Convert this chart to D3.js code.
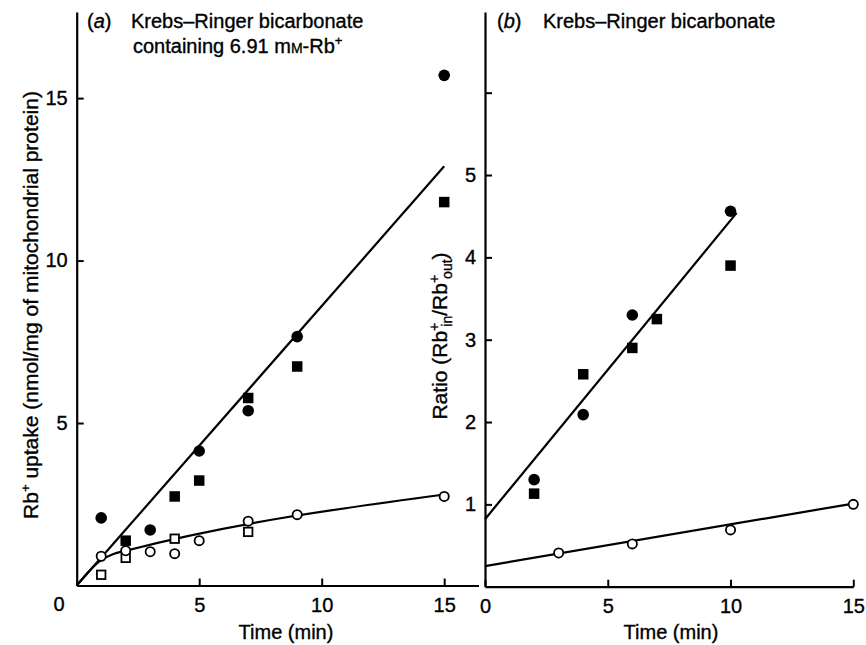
<!DOCTYPE html>
<html>
<head>
<meta charset="utf-8">
<script src="https://cdn.jsdelivr.net/npm/d3@7"></script>
<style>
  html, body { margin: 0; padding: 0; background: #fff; }
  svg text { font-family: "Liberation Sans", Arial, Helvetica, sans-serif; fill: #000; stroke: #000; stroke-width: 0.35px; }
</style>
</head>
<body>
<svg id="chart" width="866" height="645"></svg>
<script>
// ---------- Data: panel (a) Rb+ uptake (nmol/mg protein) ----------
const aFilledCircleTime  = [1, 3, 5, 7, 9, 15];
const aFilledCircleValue = [2.08, 1.71, 4.14, 5.38, 7.66, 15.7];
const aFilledSquareTime  = [2, 4, 5, 7, 9, 15];
const aFilledSquareValue = [1.38, 2.74, 3.23, 5.77, 6.74, 11.8];
const aOpenCircleTime    = [1, 2, 3, 4, 5, 7, 9, 15];
const aOpenCircleValue   = [0.90, 1.07, 1.04, 0.98, 1.38, 1.98, 2.18, 2.74];
const aOpenSquareTime    = [1, 2, 4, 7];
const aOpenSquareValue   = [0.33, 0.85, 1.44, 1.65];
const aUpperLine = [[0, 0], [15, 12.9]];
const aLowerLine = [[0, 0], [1, 0.78], [1.5, 0.97], [2, 1.07], [15, 2.8]];
const aYTicks = [5, 10, 15];
const aXTicks = [5, 10, 15];

// ---------- Data: panel (b) Ratio Rb+in/Rb+out ----------
const bFilledCircleTime  = [2, 4, 6, 10];
const bFilledCircleValue = [1.30, 2.09, 3.30, 4.56];
const bFilledSquareTime  = [2, 4, 6, 7, 10];
const bFilledSquareValue = [1.13, 2.58, 2.90, 3.25, 3.90];
const bOpenCircleTime    = [3, 6, 10, 15];
const bOpenCircleValue   = [0.41, 0.52, 0.69, 1.00];
const bUpperLine = [[0, 0.82], [10.25, 4.54]];
const bLowerLine = [[0, 0.25], [15, 1.01]];
const bYTicks = [1, 2, 3, 4, 5, 6];
const bYTickLabels = ["1", "2", "3", "4", "5", ""];
const bXTicks = [0, 5, 10, 15];

const svg = d3.select("#chart");
const FONT = 20;

// ---------- scales ----------
const xA = d3.scaleLinear().domain([0, 16.4]).range([76.7, 478.5]);
const yA = d3.scaleLinear().domain([0, 17.65]).range([585.5, 12]);
const xB = d3.scaleLinear().domain([0, 15]).range([485, 853.3]);
const yB = d3.scaleLinear().domain([0, 6.98]).range([586.7, 12]);

function styleAxis(g) {
  g.selectAll("path.domain").attr("stroke", "#000").attr("stroke-width", 2.2);
  g.selectAll(".tick line").attr("stroke", "#000").attr("stroke-width", 2);
  g.selectAll(".tick text").style("font-size", FONT + "px").attr("fill", "#000")
    .style("font-family", '"Liberation Sans", Arial, sans-serif');
  g.attr("font-family", null).attr("font-size", null);
}

// ---------- Panel (a) axes ----------
svg.append("g").attr("transform", `translate(${xA(0)},0)`)
  .call(d3.axisLeft(yA).tickValues(aYTicks).tickSize(-7).tickSizeOuter(0).tickPadding(9).tickFormat(d3.format("d")))
  .call(styleAxis);
svg.append("g").attr("transform", `translate(0,${yA(0)})`)
  .call(d3.axisBottom(xA).tickValues(aXTicks).tickSize(-7).tickSizeOuter(0).tickPadding(12).tickFormat(d3.format("d")))
  .call(styleAxis);
svg.append("text").attr("x", 59).attr("y", 611).attr("text-anchor", "middle")
  .style("font-size", FONT + "px").text("0");

// ---------- Panel (b) axes ----------
svg.append("g").attr("transform", `translate(${xB(0)},0)`)
  .call(d3.axisLeft(yB).tickValues(bYTicks).tickSize(-7).tickSizeOuter(0).tickPadding(9)
    .tickFormat((d, i) => bYTickLabels[i]))
  .call(styleAxis);
svg.append("g").attr("transform", `translate(0,${yB(0)})`)
  .call(d3.axisBottom(xB).tickValues(bXTicks).tickSize(-7).tickSizeOuter(0).tickPadding(12).tickFormat(d3.format("d")))
  .call(styleAxis);

// ---------- Axis titles ----------
svg.append("text").attr("x", 286).attr("y", 639).attr("text-anchor", "middle")
  .style("font-size", FONT + "px").text("Time (min)");
svg.append("text").attr("x", 671).attr("y", 639).attr("text-anchor", "middle")
  .style("font-size", FONT + "px").text("Time (min)");

const yLabA = svg.append("text")
  .attr("transform", "translate(38,305) rotate(-90)")
  .attr("text-anchor", "middle").style("font-size", "21px");
yLabA.append("tspan").text("Rb");
yLabA.append("tspan").attr("dy", -8).style("font-size", "13px").text("+");
yLabA.append("tspan").attr("dy", 8).text(" uptake (nmol/mg of mitochondrial protein)");

const yLabB = svg.append("text")
  .attr("transform", "translate(447,336) rotate(-90)")
  .attr("text-anchor", "middle").style("font-size", "21px");
yLabB.append("tspan").text("Ratio (Rb");
yLabB.append("tspan").attr("dy", -8).style("font-size", "14px").text("+");
yLabB.append("tspan").attr("dy", 13).attr("dx", -4).style("font-size", "14px").text("in");
yLabB.append("tspan").attr("dy", -5).text("/Rb");
yLabB.append("tspan").attr("dy", -8).style("font-size", "14px").text("+");
yLabB.append("tspan").attr("dy", 13).attr("dx", -4).style("font-size", "14px").text("out");
yLabB.append("tspan").attr("dy", -5).text(")");

// ---------- Panel titles ----------
const tA = svg.append("text").attr("x", 87).attr("y", 28).style("font-size", FONT + "px");
tA.append("tspan").text("(");
tA.append("tspan").style("font-style", "italic").text("a");
tA.append("tspan").text(")");
tA.append("tspan").attr("x", 131).text("Krebs\u2013Ringer bicarbonate");
const tA2 = svg.append("text").attr("x", 133).attr("y", 53).style("font-size", FONT + "px");
tA2.append("tspan").text("containing 6.91 m");
tA2.append("tspan").style("font-size", "14px").text("M");
tA2.append("tspan").text("-Rb");
tA2.append("tspan").attr("dy", -8).style("font-size", "13px").text("+");

const tB = svg.append("text").attr("x", 497).attr("y", 28).style("font-size", FONT + "px");
tB.append("tspan").text("(");
tB.append("tspan").style("font-style", "italic").text("b");
tB.append("tspan").text(")");
tB.append("tspan").attr("x", 543).text("Krebs\u2013Ringer bicarbonate");

// ---------- Fit lines ----------
function drawLine(data, x, y, curve) {
  svg.append("path").datum(data)
    .attr("d", d3.line().x(d => x(d[0])).y(d => y(d[1])).curve(curve || d3.curveLinear))
    .attr("fill", "none").attr("stroke", "#000").attr("stroke-width", 2.2);
}
drawLine(aUpperLine, xA, yA);
drawLine(aLowerLine, xA, yA, d3.curveMonotoneX);
drawLine(bUpperLine, xB, yB);
drawLine(bLowerLine, xB, yB);

// ---------- Markers ----------
function pts(times, values) { return times.map((t, i) => ({ t, v: values[i] })); }
function circles(data, x, y, filled) {
  svg.append("g").selectAll("circle").data(data).join("circle")
    .attr("cx", d => x(d.t)).attr("cy", d => y(d.v))
    .attr("r", filled ? 5.8 : 4.6)
    .attr("fill", filled ? "#000" : "#fff")
    .attr("stroke", "#000").attr("stroke-width", filled ? 0 : 1.8);
}
function squares(data, x, y, filled) {
  const s = filled ? 10.5 : 8.5;
  svg.append("g").selectAll("rect").data(data).join("rect")
    .attr("x", d => x(d.t) - s / 2).attr("y", d => y(d.v) - s / 2)
    .attr("width", s).attr("height", s)
    .attr("fill", filled ? "#000" : "#fff")
    .attr("stroke", "#000").attr("stroke-width", filled ? 0 : 1.8);
}
circles(pts(aFilledCircleTime, aFilledCircleValue), xA, yA, true);
squares(pts(aFilledSquareTime, aFilledSquareValue), xA, yA, true);
squares(pts(aOpenSquareTime, aOpenSquareValue), xA, yA, false);
circles(pts(aOpenCircleTime, aOpenCircleValue), xA, yA, false);

circles(pts(bFilledCircleTime, bFilledCircleValue), xB, yB, true);
squares(pts(bFilledSquareTime, bFilledSquareValue), xB, yB, true);
circles(pts(bOpenCircleTime, bOpenCircleValue), xB, yB, false);
</script>
</body>
</html>
